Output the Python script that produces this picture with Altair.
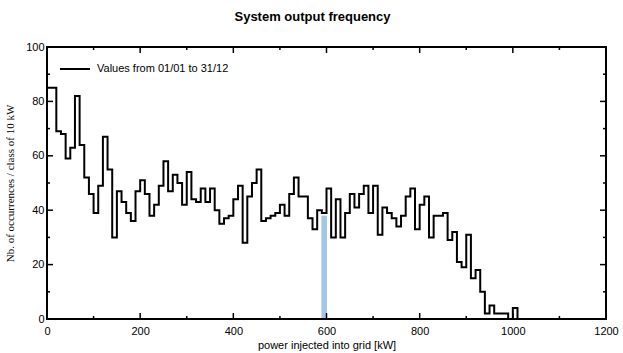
import altair as alt
import pandas as pd

# Histogram of system output: occurrences per 10 kW class (class start = index * 10 kW)
class_width_kw = 10
counts = [
    85, 85, 69, 68, 59, 63, 82, 64, 52, 46,
    39, 49, 67, 55, 30, 47, 43, 39, 36, 47,
    51, 46, 38, 42, 49, 58, 47, 53, 50, 42,
    54, 44, 43, 48, 43, 48, 40, 35, 37, 38,
    44, 49, 28, 45, 50, 55, 36, 37, 38, 39,
    42, 38, 46, 52, 45, 45, 37, 33, 40, 39,
    48, 30, 44, 30, 39, 46, 41, 46, 49, 39,
    49, 31, 41, 39, 37, 34, 38, 45, 48, 33,
    42, 45, 30, 38, 38, 39, 29, 32, 21, 19,
    31, 15, 18, 10, 2, 5, 2, 2, 2, 0,
    4,
]
series_name = "Values from 01/01 to 31/12"

# highlighted class (light blue bar)
highlight_start = [589]
highlight_end = [601]
highlight_value = [38]

x_label_values = [0, 200, 400, 600, 800, 1000, 1200]
x_minor_values = [100, 300, 500, 700, 900, 1100]
y_label_values = [0, 20, 40, 60, 80, 100]
y_minor_values = [10, 30, 50, 70, 90]

W, H = 559, 272

# step-line table
xs = [0] + [i * class_width_kw for i in range(len(counts))] + [len(counts) * class_width_kw]
ys = [0] + counts + [0]
line_df = pd.DataFrame({"x": xs, "y": ys, "idx": list(range(len(xs))), "series": series_name})

xscale = alt.Scale(domain=[0, 1200], nice=False, zero=False)
yscale = alt.Scale(domain=[0, 100], nice=False)

xaxis = alt.Axis(values=x_label_values, ticks=False, domain=False, grid=False, format="d",
                 labelFont="Liberation Sans", labelFontSize=11, labelColor="black",
                 labelPadding=6, labelFlush=False, labelOverlap=False,
                 title="power injected into grid [kW]", titleFont="Liberation Sans",
                 titleFontSize=11, titleFontWeight="normal", titleColor="black", titlePadding=3)
yaxis = alt.Axis(values=y_label_values, ticks=False, domain=False, grid=False, format="d",
                 labelFont="Liberation Sans", labelFontSize=11, labelColor="black",
                 labelPadding=3, labelFlush=False, labelOverlap=False,
                 title="Nb. of occurrences / class of 10 kW", titleFont="Liberation Serif",
                 titleFontSize=11, titleFontWeight="normal", titleColor="black", titlePadding=10)

hl_df = pd.DataFrame({"x": highlight_start, "x2": highlight_end, "y": highlight_value})
highlight = alt.Chart(hl_df).mark_rect(color="#a3c6e8").encode(
    x=alt.X("x:Q", scale=xscale, axis=xaxis),
    x2="x2:Q",
    y=alt.Y("y:Q", scale=yscale, axis=yaxis),
    y2=alt.datum(0),
)

line = alt.Chart(line_df).mark_line(interpolate="step-after", strokeWidth=2).encode(
    x=alt.X("x:Q", scale=xscale),
    y=alt.Y("y:Q", scale=yscale),
    order=alt.Order("idx:Q"),
    color=alt.Color("series:N", scale=alt.Scale(range=["black"]),
                    legend=alt.Legend(title=None, orient="none", legendX=12, legendY=6,
                                      symbolType="stroke", symbolSize=900, symbolStrokeWidth=2,
                                      labelFont="Liberation Sans", labelFontSize=11,
                                      labelColor="black", labelOffset=6)),
)

def ticks_x(values, length, top):
    df = pd.DataFrame({"v": values})
    if top:
        return alt.Chart(df).mark_rule(color="black", strokeWidth=1.5).encode(
            x=alt.X("v:Q", scale=xscale), y=alt.value(0), y2=alt.value(length))
    return alt.Chart(df).mark_rule(color="black", strokeWidth=1.5).encode(
        x=alt.X("v:Q", scale=xscale), y=alt.value(H), y2=alt.value(H - length))

def ticks_y(values, length, right):
    df = pd.DataFrame({"v": values})
    if right:
        return alt.Chart(df).mark_rule(color="black", strokeWidth=1.5).encode(
            y=alt.Y("v:Q", scale=yscale), x=alt.value(W), x2=alt.value(W - length))
    return alt.Chart(df).mark_rule(color="black", strokeWidth=1.5).encode(
        y=alt.Y("v:Q", scale=yscale), x=alt.value(0), x2=alt.value(length))

tick_layers = [
    ticks_x(x_label_values, 6, False), ticks_x(x_minor_values, 3, False),
    ticks_x(x_label_values, 6, True), ticks_x(x_minor_values, 3, True),
    ticks_y(y_label_values, 6, False), ticks_y(y_minor_values, 3, False),
    ticks_y(y_label_values, 6, True), ticks_y(y_minor_values, 3, True),
]

frame = alt.Chart(pd.DataFrame({"f": [0]})).mark_rect(
    fill=None, fillOpacity=0, stroke="black", strokeWidth=2
).encode(x=alt.value(0), x2=alt.value(W), y=alt.value(0), y2=alt.value(H))

chart = alt.layer(highlight, line, *tick_layers, frame).properties(
    width=W, height=H,
    autosize=alt.AutoSizeParams(type="none"),
    padding={"left": 47, "top": 47, "right": 17, "bottom": 34},
    title=alt.TitleParams("System output frequency", font="Liberation Sans", fontSize=13,
                          fontWeight="bold", color="black", anchor="middle", dx=-14, offset=17),
).configure_view(stroke=None).configure(background="white")

chart.save("out.html", embed_options={"renderer": "svg", "actions": False})
